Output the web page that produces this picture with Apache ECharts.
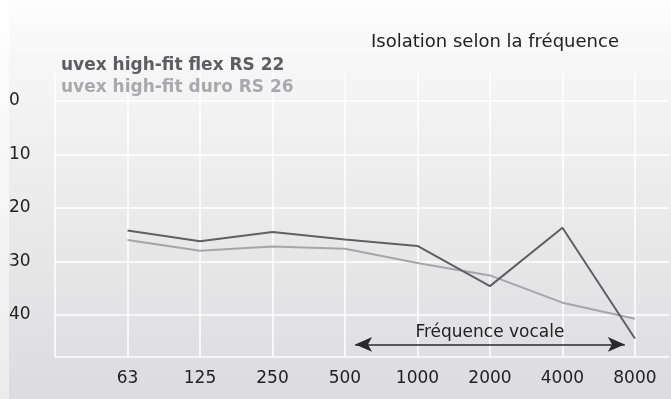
<!DOCTYPE html>
<html>
<head>
<meta charset="utf-8">
<script src="https://cdn.jsdelivr.net/npm/echarts@6/dist/echarts.min.js"></script>
<style>html,body{margin:0;padding:0;background:#fff}#c{width:671px;height:399px}</style>
</head>
<body>
<div id="c"></div>
<script>
var frequencies = ['63', '125', '250', '500', '1000', '2000', '4000', '8000'];
var flexRS22 = [24.2, 26.2, 24.5, 25.9, 27.1, 34.6, 23.7, 44.4];
var duroRS26 = [26.0, 28.0, 27.2, 27.6, 30.3, 32.6, 37.7, 40.7];
var seriesNames = ['uvex high-fit flex RS 22', 'uvex high-fit duro RS 26'];
var yTicks = [0, 10, 20, 30, 40];
var vocalRange = [4.14, 7.86]; // arrow span in category-index units
var vocalLevel = 45.5;

function pairs(vals) {
  return vals.map(function (v, i) { return [i + 1, v]; });
}

var font = '"DejaVu Sans", sans-serif';
var chart = echarts.init(document.getElementById('c'), null, { renderer: 'canvas' });
chart.setOption({
  animation: false,
  backgroundColor: {
    type: 'linear', x: 0, y: 0, x2: 0, y2: 1,
    colorStops: [{ offset: 0, color: '#ffffff' }, { offset: 1, color: '#ececed' }]
  },
  graphic: [{
    type: 'rect', z: -100, silent: true,
    shape: { x: 9, y: 0, width: 662, height: 399 },
    style: {
      fill: {
        type: 'linear', x: 0, y: 0, x2: 0, y2: 1,
        colorStops: [{ offset: 0, color: '#fdfdfd' }, { offset: 0.25, color: '#f3f3f3' }, { offset: 1, color: '#dcdcde' }]
      }
    }
  }],
  title: {
    text: 'Isolation selon la fréquence',
    left: 366, top: 28,
    textStyle: { fontFamily: font, fontWeight: 'normal', fontSize: 18, color: '#222' }
  },
  legend: {
    orient: 'vertical', left: 51, top: 52,
    itemWidth: 0, itemHeight: 0, itemGap: 5,
    icon: 'none',
    selectedMode: false,
    data: [
      { name: seriesNames[0], textStyle: { color: '#5e5e60' } },
      { name: seriesNames[1], textStyle: { color: '#a9a9ab' } }
    ],
    textStyle: { fontFamily: font, fontWeight: 'bold', fontSize: 17, padding: 0 }
  },
  grid: { left: 55, right: 2, top: 72.7, bottom: 42.3, containLabel: false },
  xAxis: {
    type: 'value', min: 0, max: 8.47, interval: 1,
    axisLine: { show: false }, axisTick: { show: false },
    splitLine: { show: true, showMaxLine: false, lineStyle: { color: '#ffffff', width: 1.5 } },
    axisLabel: {
      margin: 13, fontFamily: font, fontSize: 17, color: '#222',
      showMinLabel: false, showMaxLabel: false,
      formatter: function (v) {
        var i = Math.round(v);
        return (Math.abs(v - i) < 1e-6 && i >= 1 && i <= frequencies.length) ? frequencies[i - 1] : '';
      }
    }
  },
  yAxis: {
    type: 'value', inverse: true, min: -5.3, max: 47.8,
    axisLine: { show: false }, axisTick: { show: false },
    splitLine: { show: true, showMinLine: false, lineStyle: { color: '#ffffff', width: 1.5 } },
    axisLabel: {
      align: 'left', margin: 46, fontFamily: font, fontSize: 17, color: '#222',
      padding: [4, 0, 0, 0],
      formatter: function (v) {
        return yTicks.indexOf(Math.round(v * 1000) / 1000) >= 0 ? String(v) : '';
      }
    }
  },
  series: [
    {
      name: seriesNames[0], type: 'line', data: pairs(flexRS22),
      symbol: 'none', z: 4,
      lineStyle: { color: '#606062', width: 2 }, itemStyle: { color: '#606062' },
      markLine: {
        silent: true, symbol: ['arrow', 'arrow'], symbolSize: [11, 17],
        lineStyle: { color: '#2a2a2a', width: 1.5, type: 'solid' },
        label: {
          show: true, position: 'middle', formatter: 'Fréquence vocale',
          fontFamily: font, fontSize: 17, color: '#222', distance: 3
        },
        data: [[{ coord: [vocalRange[0], vocalLevel] }, { coord: [vocalRange[1], vocalLevel] }]]
      }
    },
    {
      name: seriesNames[1], type: 'line', data: pairs(duroRS26),
      symbol: 'none', z: 3,
      lineStyle: { color: '#a6a6a8', width: 2 }, itemStyle: { color: '#a6a6a8' }
    }
  ]
});
</script>
</body>
</html>
